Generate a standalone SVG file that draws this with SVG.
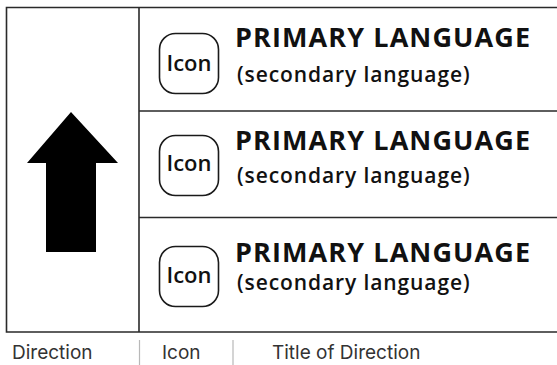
<svg xmlns="http://www.w3.org/2000/svg" width="557" height="365" viewBox="0 0 557 365">
<style>
.ln{stroke:#2a2a2a;stroke-width:1.6;fill:none}
.sep{stroke:#b8b8b8;stroke-width:1.2}
.ic{fill:none;stroke:#1a1a1a;stroke-width:1.6}
.it{font-family:"Open Sans",sans-serif;font-weight:600;font-size:22px;fill:#111;text-anchor:middle}
.pt{font-family:"Open Sans",sans-serif;font-weight:700;font-size:27px;letter-spacing:1.1px;fill:#111}
.st{font-family:"Open Sans",sans-serif;font-weight:600;font-size:21px;letter-spacing:0.9px;fill:#111}
.lb{font-family:Inter,"Liberation Sans",sans-serif;font-size:19px;fill:#333}
</style>
<rect width="557" height="365" fill="#fff"/>
<g id="frame">
<path class="ln" d="M557,7.5 H6.5 V332 H557"/>
<path class="ln" d="M139,7.5 V332"/>
<path class="ln" d="M139,111 H557 M139,217.5 H557"/>
</g>
<g id="arrow">
<polygon points="71,112 118,163 96,163 96,252 46,252 46,163 27,163" fill="#000"/>
</g>
<g id="row1">
<rect class="ic" x="159.5" y="33.5" width="59" height="60" rx="16"/>
<text class="it" x="189" y="70.5">Icon</text>
<text class="pt" x="235" y="47">PRIMARY LANGUAGE</text>
<text class="st" x="237" y="82">(secondary language)</text>
</g>
<g id="row2">
<rect class="ic" x="159.5" y="135.5" width="59" height="60" rx="16"/>
<text class="it" x="189" y="171">Icon</text>
<text class="pt" x="235" y="150">PRIMARY LANGUAGE</text>
<text class="st" x="237" y="183">(secondary language)</text>
</g>
<g id="row3">
<rect class="ic" x="159.5" y="246.5" width="59" height="60" rx="16"/>
<text class="it" x="189" y="283">Icon</text>
<text class="pt" x="235" y="262">PRIMARY LANGUAGE</text>
<text class="st" x="237" y="290">(secondary language)</text>
</g>
<g id="legend">
<line class="sep" x1="139.5" y1="340" x2="139.5" y2="365"/>
<line class="sep" x1="233" y1="340" x2="233" y2="365"/>
<text class="lb" x="12" y="359">Direction</text>
<text class="lb" x="162" y="359">Icon</text>
<text class="lb" x="272" y="359">Title of Direction</text>
</g>
</svg>
